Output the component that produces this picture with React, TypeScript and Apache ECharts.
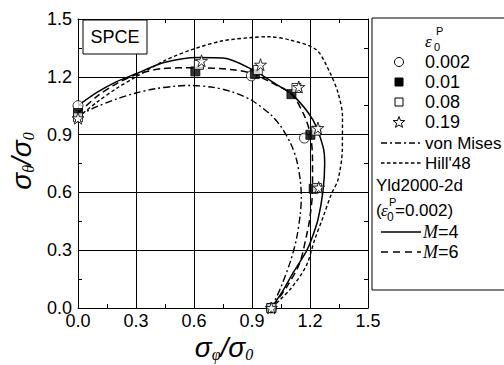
import React, { useEffect, useRef } from 'react';
import * as echarts from 'echarts';

// Axis ticks (both axes)
const axisMin = 0;
const axisMax = 1.5;
const axisStep = 0.3;

// Experimental points [sigma_phi/sigma_0, sigma_theta/sigma_0]
const eps0002 = [[0, 1.05], [0.897, 1.205], [1.171, 0.882], [1.0, 0]];
const eps001 = [[0, 1.012], [0.607, 1.228], [0.915, 1.215], [1.104, 1.11], [1.202, 0.899], [1.219, 0.619], [1.0, 0]];
const eps008 = [[0, 0.99], [0.625, 1.262], [0.93, 1.235], [1.13, 1.142], [1.232, 0.92], [1.236, 0.623], [1.0, 0]];
const eps019 = [[0, 0.985], [0.639, 1.283], [0.944, 1.263], [1.142, 1.147], [1.241, 0.934], [1.245, 0.625], [1.0, 0]];

// Yield loci
const vonMises = [[0, 1.0], [0.1, 1.046], [0.2, 1.085], [0.3, 1.116], [0.4, 1.138], [0.5, 1.151], [0.58, 1.155], [0.7, 1.145], [0.8, 1.121], [0.9, 1.077], [1.0, 1.0], [1.05, 0.941], [1.1, 0.854], [1.13, 0.771], [1.15, 0.66], [1.155, 0.577], [1.15, 0.49], [1.13, 0.359], [1.1, 0.246], [1.05, 0.109], [1.0, 0]];
const hill48 = [[0, 0.99], [0.1, 1.07], [0.2, 1.14], [0.3, 1.2], [0.45, 1.285], [0.6, 1.345], [0.75, 1.387], [0.9, 1.404], [0.98, 1.408], [1.1, 1.39], [1.233, 1.34], [1.3, 1.228], [1.345, 1.117], [1.368, 0.993], [1.367, 0.82], [1.345, 0.666], [1.31, 0.59], [1.267, 0.47], [1.224, 0.354], [1.181, 0.22], [1.1, 0.1], [1.0, 0]];
const yldM4 = [[0, 1.05], [0.1, 1.12], [0.2, 1.175], [0.3, 1.216], [0.45, 1.275], [0.62, 1.3], [0.75, 1.297], [0.897, 1.24], [1.043, 1.15], [1.112, 1.105], [1.215, 0.977], [1.267, 0.839], [1.276, 0.752], [1.267, 0.605], [1.241, 0.458], [1.207, 0.354], [1.181, 0.294], [1.112, 0.182], [1.06, 0.09], [1.0, 0]];
const yldM6 = [[0, 1.01], [0.1, 1.1], [0.2, 1.165], [0.3, 1.21], [0.44, 1.243], [0.6, 1.247], [0.8, 1.237], [0.905, 1.216], [1.0, 1.17], [1.104, 1.11], [1.17, 1.0], [1.202, 0.9], [1.213, 0.77], [1.213, 0.614], [1.198, 0.458], [1.181, 0.372], [1.147, 0.234], [1.08, 0.11], [1.0, 0]];

const pointLabels = ['0.002', '0.01', '0.08', '0.19'];
const lineLabels = ['von Mises', "Hill'48"];

const STAR = 'path://M50,2 L61,37 L98,37 L68,59 L79,94 L50,72 L21,94 L32,59 L2,37 L39,37 Z';
const SANS = 'Liberation Sans';
const SERIF = 'Liberation Serif';

function starPoints(cx: number, cy: number, r: number) {
  const pts: number[][] = [];
  for (let i = 0; i < 10; i++) {
    const a = -Math.PI / 2 + (i * Math.PI) / 5;
    const rr = i % 2 === 0 ? r : r * 0.42;
    pts.push([cx + rr * Math.cos(a), cy + rr * Math.sin(a)]);
  }
  return pts;
}

export default function App() {
  const ref = useRef<HTMLDivElement>(null);
  useEffect(() => {
    if (!ref.current) return;
    const chart = echarts.init(ref.current, null, { renderer: 'svg' });

    const baseAxis = {
      type: 'value' as const,
      min: axisMin,
      max: axisMax,
      interval: axisStep,
      axisLine: { show: true, onZero: false, lineStyle: { color: '#000', width: 1 } },
      axisTick: { show: false, inside: true },
      minorTick: { show: true, splitNumber: 2, length: 4, lineStyle: { color: '#000', width: 1 } },
    };
    const labelStyle = {
      color: '#000',
      fontSize: 18,
      fontFamily: SANS,
      formatter: (v: number) => v.toFixed(1),
    };

    const lineSeries = (name: string, data: number[][], dash: any, width = 1.4) => ({
      name,
      type: 'line',
      data,
      smooth: 0.3,
      symbol: 'none',
      z: 2,
      lineStyle: { color: '#000', width, type: dash },
    });

    const legendX = 372;
    const rowY = [62, 82, 102, 122, 143, 163, 185, 210, 232, 252];
    const textX = 425;
    const markX = 399;
    const g: any[] = [];
    g.push({ type: 'rect', shape: { x: legendX, y: 18, width: 140, height: 272 }, style: { fill: '#fff', stroke: '#000', lineWidth: 1 }, z: 10 });
    // title epsilon_0^p
    g.push({ type: 'text', x: 425, y: 41, style: { text: 'ε', font: `italic 17px ${SERIF}`, fill: '#000', verticalAlign: 'middle' }, z: 11 });
    g.push({ type: 'text', x: 436, y: 31, style: { text: 'P', font: `11px ${SANS}`, fill: '#000', verticalAlign: 'middle' }, z: 11 });
    g.push({ type: 'text', x: 434, y: 47, style: { text: '0', font: `11px ${SANS}`, fill: '#000', verticalAlign: 'middle' }, z: 11 });
    // marker entries
    g.push({ type: 'circle', shape: { cx: markX, cy: rowY[0], r: 4.5 }, style: { fill: '#fff', stroke: '#000', lineWidth: 1 }, z: 11 });
    g.push({ type: 'rect', shape: { x: markX - 4, y: rowY[1] - 4, width: 8, height: 8 }, style: { fill: '#000', stroke: '#000', lineWidth: 1 }, z: 11 });
    g.push({ type: 'rect', shape: { x: markX - 4, y: rowY[2] - 4, width: 8, height: 8 }, style: { fill: '#fff', stroke: '#000', lineWidth: 1 }, z: 11 });
    g.push({ type: 'polygon', shape: { points: starPoints(markX, rowY[3] + 0.5, 6) }, style: { fill: '#fff', stroke: '#000', lineWidth: 1 }, z: 11 });
    pointLabels.forEach((t, i) => {
      g.push({ type: 'text', x: textX, y: rowY[i], style: { text: t, font: `18px ${SANS}`, fill: '#000', verticalAlign: 'middle' }, z: 11 });
    });
    // line entries
    g.push({ type: 'line', shape: { x1: 381, y1: rowY[4], x2: 423, y2: rowY[4] }, style: { stroke: '#000', lineWidth: 1.3, lineDash: [6, 3, 2, 3] }, z: 11 });
    g.push({ type: 'line', shape: { x1: 381, y1: rowY[5], x2: 423, y2: rowY[5] }, style: { stroke: '#000', lineWidth: 1.3, lineDash: [3.5, 2.5] }, z: 11 });
    lineLabels.forEach((t, i) => {
      g.push({ type: 'text', x: textX, y: rowY[4 + i], style: { text: t, font: `17px ${SANS}`, fill: '#000', verticalAlign: 'middle' }, z: 11 });
    });
    g.push({ type: 'text', x: 376, y: rowY[6], style: { text: 'Yld2000-2d', font: `17px ${SANS}`, fill: '#000', verticalAlign: 'middle' }, z: 11 });
    // (eps_0^p=0.002)
    g.push({ type: 'text', x: 376, y: rowY[7], style: { text: '(', font: `17px ${SANS}`, fill: '#000', verticalAlign: 'middle' }, z: 11 });
    g.push({ type: 'text', x: 381, y: rowY[7], style: { text: 'ε', font: `italic 17px ${SERIF}`, fill: '#000', verticalAlign: 'middle' }, z: 11 });
    g.push({ type: 'text', x: 389, y: rowY[7] - 8, style: { text: 'P', font: `11px ${SANS}`, fill: '#000', verticalAlign: 'middle' }, z: 11 });
    g.push({ type: 'text', x: 387, y: rowY[7] + 7, style: { text: '0', font: `12px ${SANS}`, fill: '#000', verticalAlign: 'middle' }, z: 11 });
    g.push({ type: 'text', x: 395, y: rowY[7], style: { text: '=0.002)', font: `17px ${SANS}`, fill: '#000', verticalAlign: 'middle' }, z: 11 });
    // M=4, M=6
    g.push({ type: 'line', shape: { x1: 381, y1: rowY[8], x2: 421, y2: rowY[8] }, style: { stroke: '#000', lineWidth: 1.4 }, z: 11 });
    g.push({ type: 'line', shape: { x1: 381, y1: rowY[9], x2: 421, y2: rowY[9] }, style: { stroke: '#000', lineWidth: 1.4, lineDash: [7, 5] }, z: 11 });
    ['4', '6'].forEach((m, i) => {
      g.push({
        type: 'text', x: 423, y: rowY[8 + i],
        style: {
          text: `{i|M}{n|=${m}}`, verticalAlign: 'middle', fill: '#000',
          rich: { i: { font: `italic 18px ${SERIF}`, fill: '#000' }, n: { font: `18px ${SANS}`, fill: '#000' } },
        }, z: 11,
      });
    });
    // SPCE box
    g.push({ type: 'rect', shape: { x: 83, y: 20, width: 64, height: 34 }, style: { fill: '#fff', stroke: '#000', lineWidth: 1 }, z: 10 });
    g.push({ type: 'text', x: 115, y: 37, style: { text: 'SPCE', font: `18px ${SANS}`, fill: '#000', align: 'center', verticalAlign: 'middle' }, z: 11 });

    const nameRich = {
      s: { fontSize: 28, fontStyle: 'italic', fontFamily: SANS, lineHeight: 30, fill: '#000' },
      sub: { fontSize: 16, fontStyle: 'italic', fontFamily: SERIF, lineHeight: 12, verticalAlign: 'bottom', fill: '#000' },
    };
    // axis titles
    g.push({ type: 'text', x: 224, y: 347, style: { text: '{s|σ}{sub|φ}{s|/σ}{sub|0}', rich: nameRich, align: 'center', verticalAlign: 'middle' }, z: 11 });
    g.push({ type: 'text', x: 21, y: 161, rotation: Math.PI / 2, style: { text: '{s|σ}{sub|θ}{s|/σ}{sub|0}', rich: nameRich, align: 'center', verticalAlign: 'middle' }, z: 11 });

    chart.setOption({
      animation: false,
      backgroundColor: '#fff',
      grid: { left: 78, right: 136, top: 19, bottom: 57, containLabel: false },
      xAxis: [
        { ...baseAxis, position: 'bottom', splitLine: { show: true, lineStyle: { color: '#000', width: 1 } }, axisLabel: { ...labelStyle, margin: 4 } },
        { ...baseAxis, position: 'top', splitLine: { show: false }, axisLabel: { show: false } },
      ],
      yAxis: [
        { ...baseAxis, position: 'left', splitLine: { show: true, lineStyle: { color: '#000', width: 1 } }, axisLabel: { ...labelStyle, margin: 6 } },
        { ...baseAxis, position: 'right', splitLine: { show: false }, axisLabel: { show: false } },
      ],
      series: [
        lineSeries('von Mises', vonMises, [7, 3, 2, 3]),
        lineSeries("Hill'48", hill48, [3.5, 2.5]),
        lineSeries('M=4', yldM4, 'solid', 1.5),
        lineSeries('M=6', yldM6, [7, 4], 1.5),
        { name: '0.002', type: 'scatter', data: eps0002, symbol: 'circle', symbolSize: 10, z: 5, itemStyle: { color: '#fff', borderColor: '#000', borderWidth: 1 } },
        { name: '0.01', type: 'scatter', data: eps001, symbol: 'rect', symbolSize: 9, z: 5, itemStyle: { color: '#000', borderColor: '#000', borderWidth: 1 } },
        { name: '0.08', type: 'scatter', data: eps008, symbol: 'rect', symbolSize: 9, z: 5, itemStyle: { color: '#fff', borderColor: '#000', borderWidth: 1 } },
        { name: '0.19', type: 'scatter', data: eps019, symbol: STAR, symbolSize: 12, z: 6, itemStyle: { color: '#fff', borderColor: '#000', borderWidth: 1 } },
      ],
      graphic: g,
    });
    return () => chart.dispose();
  }, []);
  return <div ref={ref} style={{ position: 'fixed', left: 0, top: 0, width: 504, height: 365 }} />;
}
